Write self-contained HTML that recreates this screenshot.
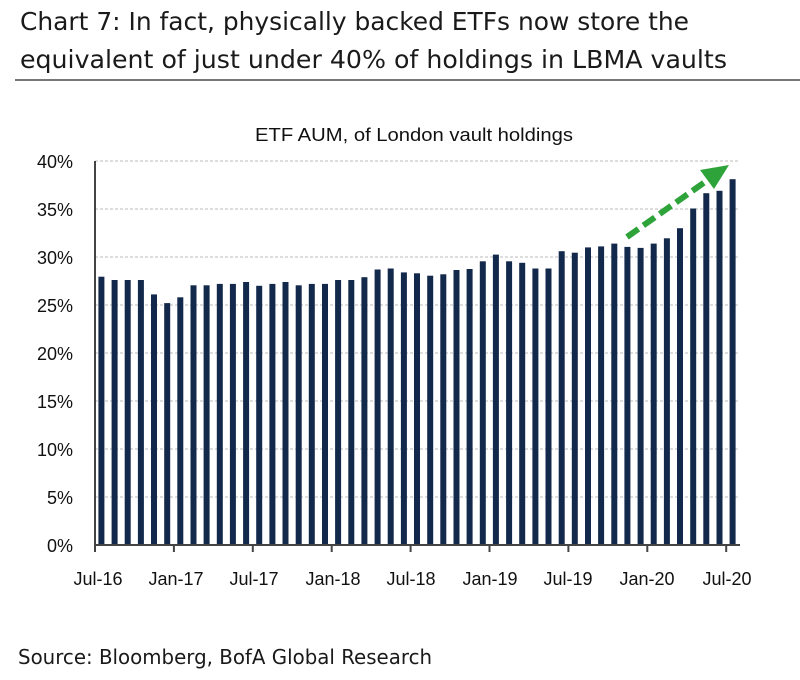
<!DOCTYPE html>
<html><head><meta charset="utf-8"><style>html,body{margin:0;padding:0;background:#fff}svg{display:block}</style></head>
<body>
<svg width="800" height="680" viewBox="0 0 800 680" xmlns="http://www.w3.org/2000/svg" font-family="'DejaVu Sans','Liberation Sans',sans-serif">
<text x="20" y="30" font-size="25" fill="#1a1a1a" textLength="669" lengthAdjust="spacingAndGlyphs">Chart 7: In fact, physically backed ETFs now store the</text>
<text x="20" y="68" font-size="25" fill="#1a1a1a" textLength="707" lengthAdjust="spacingAndGlyphs">equivalent of just under 40% of holdings in LBMA vaults</text>
<line x1="15" y1="80" x2="800" y2="80" stroke="#777" stroke-width="2"/>
<text x="414" y="141" font-size="18" font-family="'Liberation Sans',sans-serif" text-anchor="middle" fill="#111" textLength="318" lengthAdjust="spacingAndGlyphs">ETF AUM, of London vault holdings</text>
<g stroke="#bbb" stroke-width="1" stroke-dasharray="3,2">
<line x1="95" y1="161" x2="740" y2="161"/><line x1="95" y1="209" x2="740" y2="209"/><line x1="95" y1="257" x2="740" y2="257"/><line x1="95" y1="305" x2="740" y2="305"/><line x1="95" y1="353" x2="740" y2="353"/><line x1="95" y1="401" x2="740" y2="401"/><line x1="95" y1="449" x2="740" y2="449"/><line x1="95" y1="497" x2="740" y2="497"/>
</g>
<g fill="#13294b">
<rect x="98.4" y="276.7" width="6" height="268.3"/>
<rect x="111.6" y="280" width="6" height="265"/>
<rect x="124.7" y="280" width="6" height="265"/>
<rect x="137.9" y="280" width="6" height="265"/>
<rect x="151.0" y="294.4" width="6" height="250.6"/>
<rect x="164.2" y="303.1" width="6" height="241.9"/>
<rect x="177.3" y="297.3" width="6" height="247.7"/>
<rect x="190.5" y="285.3" width="6" height="259.7"/>
<rect x="203.6" y="285.3" width="6" height="259.7"/>
<rect x="216.8" y="283.9" width="6" height="261.1"/>
<rect x="229.9" y="283.9" width="6" height="261.1"/>
<rect x="243.1" y="282" width="6" height="263"/>
<rect x="256.2" y="285.8" width="6" height="259.2"/>
<rect x="269.4" y="283.9" width="6" height="261.1"/>
<rect x="282.5" y="282" width="6" height="263"/>
<rect x="295.7" y="285.3" width="6" height="259.7"/>
<rect x="308.8" y="283.9" width="6" height="261.1"/>
<rect x="322.0" y="283.9" width="6" height="261.1"/>
<rect x="335.1" y="280" width="6" height="265"/>
<rect x="348.3" y="280" width="6" height="265"/>
<rect x="361.4" y="277.2" width="6" height="267.8"/>
<rect x="374.6" y="269.5" width="6" height="275.5"/>
<rect x="387.7" y="268.5" width="6" height="276.5"/>
<rect x="400.9" y="272.4" width="6" height="272.6"/>
<rect x="414.0" y="273.3" width="6" height="271.7"/>
<rect x="427.2" y="275.7" width="6" height="269.3"/>
<rect x="440.3" y="274.3" width="6" height="270.7"/>
<rect x="453.5" y="270" width="6" height="275"/>
<rect x="466.6" y="269" width="6" height="276"/>
<rect x="479.8" y="261.3" width="6" height="283.7"/>
<rect x="492.9" y="254.6" width="6" height="290.4"/>
<rect x="506.1" y="261.3" width="6" height="283.7"/>
<rect x="519.2" y="262.8" width="6" height="282.2"/>
<rect x="532.4" y="268.5" width="6" height="276.5"/>
<rect x="545.5" y="268.5" width="6" height="276.5"/>
<rect x="558.7" y="251.2" width="6" height="293.8"/>
<rect x="571.8" y="252.7" width="6" height="292.3"/>
<rect x="585.0" y="247.4" width="6" height="297.6"/>
<rect x="598.1" y="246.4" width="6" height="298.6"/>
<rect x="611.3" y="243.6" width="6" height="301.4"/>
<rect x="624.4" y="246.9" width="6" height="298.1"/>
<rect x="637.6" y="247.9" width="6" height="297.1"/>
<rect x="650.7" y="243.6" width="6" height="301.4"/>
<rect x="663.9" y="238.3" width="6" height="306.7"/>
<rect x="677.0" y="228.2" width="6" height="316.8"/>
<rect x="690.2" y="208.5" width="6" height="336.5"/>
<rect x="703.3" y="193.2" width="6" height="351.8"/>
<rect x="716.5" y="190.8" width="6" height="354.2"/>
<rect x="729.6" y="179.2" width="6" height="365.8"/>
</g>
<line x1="95" y1="161" x2="95" y2="545" stroke="#444" stroke-width="2"/>
<line x1="94" y1="545" x2="740" y2="545" stroke="#444" stroke-width="2"/>
<g stroke="#444" stroke-width="2">
<line x1="95" y1="545" x2="95" y2="552"/><line x1="173.9" y1="545" x2="173.9" y2="552"/><line x1="252.8" y1="545" x2="252.8" y2="552"/><line x1="331.7" y1="545" x2="331.7" y2="552"/><line x1="410.6" y1="545" x2="410.6" y2="552"/><line x1="489.5" y1="545" x2="489.5" y2="552"/><line x1="568.4" y1="545" x2="568.4" y2="552"/><line x1="647.3" y1="545" x2="647.3" y2="552"/><line x1="726.2" y1="545" x2="726.2" y2="552"/>
</g>
<g font-family="'Liberation Sans',sans-serif" font-size="18" fill="#111" text-anchor="end">
<text x="73" y="168">40%</text><text x="73" y="216">35%</text><text x="73" y="264">30%</text><text x="73" y="312">25%</text><text x="73" y="360">20%</text><text x="73" y="408">15%</text><text x="73" y="456">10%</text><text x="73" y="504">5%</text><text x="73" y="552">0%</text>
</g>
<g font-family="'Liberation Sans',sans-serif" font-size="18" fill="#111" text-anchor="middle">
<text x="98" y="585">Jul-16</text><text x="176" y="585">Jan-17</text><text x="254" y="585">Jul-17</text><text x="333" y="585">Jan-18</text><text x="411" y="585">Jul-18</text><text x="490" y="585">Jan-19</text><text x="568" y="585">Jul-19</text><text x="647" y="585">Jan-20</text><text x="727" y="585">Jul-20</text>
</g>
<line x1="627" y1="237" x2="712" y2="177" stroke="#2ea33a" stroke-width="6" stroke-dasharray="14,6"/>
<polygon points="729,165 700,170 714,189" fill="#2ea33a"/>
<text x="18" y="664" font-size="20" fill="#1a1a1a" textLength="414" lengthAdjust="spacingAndGlyphs">Source: Bloomberg, BofA Global Research</text>
</svg>
</body></html>
